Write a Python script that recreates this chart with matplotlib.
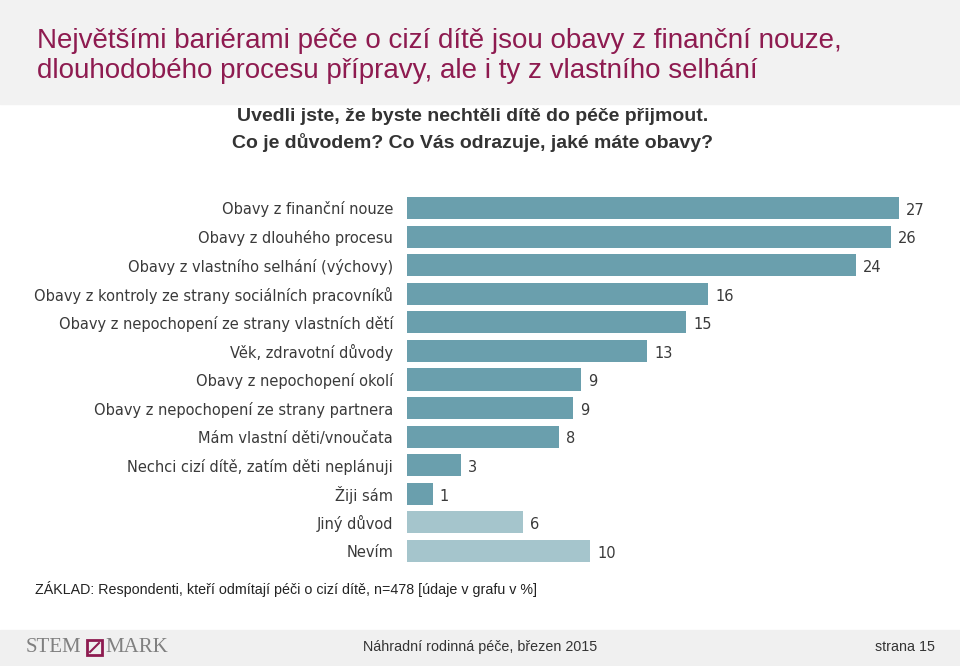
import numpy as np
import matplotlib.pyplot as plt
from matplotlib.patches import Rectangle
from matplotlib.lines import Line2D

kategorie = ['Obavy z finanční nouze', 'Obavy z dlouhého procesu',
             'Obavy z vlastního selhání (výchovy)',
             'Obavy z kontroly ze strany sociálních pracovníků',
             'Obavy z nepochopení ze strany vlastních dětí',
             'Věk, zdravotní důvody', 'Obavy z nepochopení okolí',
             'Obavy z nepochopení ze strany partnera',
             'Mám vlastní děti/vnoučata',
             'Nechci cizí dítě, zatím děti neplánuji',
             'Žiji sám', 'Jiný důvod', 'Nevím']
hodnoty = [26.6, 26.2, 24.3, 16.3, 15.1, 13.0, 9.4, 9.0, 8.2, 2.9, 1.4, 6.3, 9.9]
popisky = ['27', '26', '24', '16', '15', '13', '9', '9', '8', '3', '1', '6', '10']
skupina = ['a'] * 11 + ['b'] * 2

barvy = {'a': '#6a9fad', 'b': '#a5c5cc'}
text_c = '#3a3a3a'
vinova = '#8e1b50'

fig = plt.figure(figsize=(9.6, 6.66), dpi=100)

# horni seda lista s nadpisem
fig.patches.append(Rectangle((0, 1 - 104/666), 1, 104/666, transform=fig.transFigure,
                             color='#f2f2f2', zorder=0))
fig.text(37/960, 1 - 56/666,
         'Největšími bariérami péče o cizí dítě jsou obavy z finanční nouze,\n'
         'dlouhodobého procesu přípravy, ale i ty z vlastního selhání',
         fontsize=20, family='Liberation Sans', color=vinova,
         va='center', ha='left', linespacing=1.15)
fig.text(473/960, 1 - 130/666,
         'Uvedli jste, že byste nechtěli dítě do péče přijmout.\n'
         'Co je důvodem? Co Vás odrazuje, jaké máte obavy?',
         fontsize=14, family='Liberation Sans', weight='bold', color='#333333',
         ha='center', va='center', linespacing=1.5)

ax = fig.add_axes([407/960, 1 - 565.3/666, 536/960, 371.6/666])
y = np.arange(len(kategorie))
ax.barh(y, hodnoty, height=0.77, color=[barvy[s] for s in skupina])
for yi, v, t in zip(y, hodnoty, popisky):
    ax.text(v + 0.38, yi + 0.08, t, va='center', ha='left', fontsize=10.5, color=text_c)
ax.set_yticks(y)
ax.set_yticklabels(kategorie, fontsize=10.5, color=text_c)
ax.tick_params(axis='y', length=0, pad=10)
ax.set_xticks([])
ax.set_xlim(0, 29)
ax.set_ylim(len(kategorie) - 0.5, -0.5)
for s in ax.spines.values():
    s.set_visible(False)

fig.text(35/960, 1 - 589/666,
         'ZÁKLAD: Respondenti, kteří odmítají péči o cizí dítě, n=478 [údaje v grafu v %]',
         fontsize=10.3, family='Liberation Sans', color='#222222', va='center')

# spodni lista s logem
fig.patches.append(Rectangle((0, 0), 1, 36/666, transform=fig.transFigure,
                             color='#f0f0f0', zorder=0))
fig.text(26/960, 1 - 648/666, 'STEM', fontsize=15, family='Liberation Serif',
         color='#808080', va='center')
fig.patches.append(Rectangle((87/960, 1 - 655/666), 15/960, 15/666,
                             transform=fig.transFigure, fill=False,
                             edgecolor=vinova, lw=2))
fig.lines.append(Line2D([90/960, 99/960], [1 - 652/666, 1 - 643/666],
                        transform=fig.transFigure, color=vinova, lw=1.5))
fig.text(105/960, 1 - 648/666, 'MARK', fontsize=15, family='Liberation Serif',
         color='#808080', va='center')
fig.text(480/960, 1 - 647/666, 'Náhradní rodinná péče, březen 2015', fontsize=10.3,
         family='Liberation Sans', color='#333333', ha='center', va='center')
fig.text(935/960, 1 - 647/666, 'strana 15', fontsize=10.3,
         family='Liberation Sans', color='#333333', ha='right', va='center')

fig.savefig('out.png', dpi=100)
